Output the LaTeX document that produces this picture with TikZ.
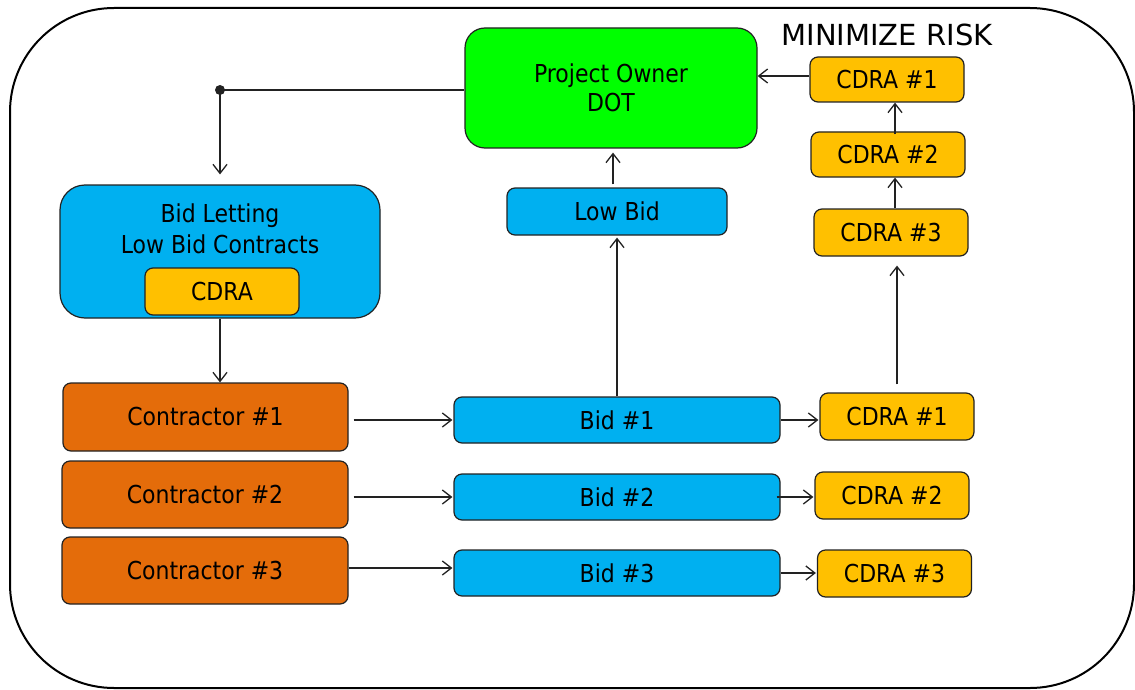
\documentclass[tikz,border=0pt]{standalone}
\usepackage{fontspec}
\setmainfont{DejaVu Sans}[FakeStretch=0.89]
\newfontfamily\titlefont{DejaVu Sans}
\usetikzlibrary{arrows.meta}
\definecolor{boxblue}{HTML}{00B0F0}
\definecolor{boxgold}{HTML}{FFC000}
\definecolor{boxorange}{HTML}{E46C0A}
\definecolor{boxgreen}{HTML}{00FF00}
\definecolor{edge}{HTML}{222222}

\begin{document}
\begin{tikzpicture}[x=1pt,y=-1pt,
  box/.style={draw=edge, line width=1.2pt, rounded corners=8pt, inner sep=0pt,
    font=\fontsize{24.7}{29}\selectfont, align=center},
  goldbox/.style={box, fill=boxgold, minimum width=154pt, minimum height=46pt},
  bidbox/.style={box, fill=boxblue, minimum width=326pt, minimum height=46pt},
  conbox/.style={box, fill=boxorange, minimum width=286pt, minimum height=67pt},
  conn/.style={draw=edge, line width=1.3pt, -{Straight Barb[length=9pt,width=14pt,line width=1.3pt]}},
  plain/.style={draw=edge, line width=1.3pt}
]
\useasboundingbox (0,0) rectangle (1135,690);

% outer frame
\draw[line width=2pt, rounded corners=104pt] (10,8) rectangle (1134,688);

% title
\node[font=\titlefont\fontsize{29}{34}\selectfont, inner sep=0pt] (risk) at (887,35) {MINIMIZE RISK};

% owner and low bid
\node[box, fill=boxgreen, rounded corners=20pt, minimum width=292pt, minimum height=120pt] (owner) at (611,88) {Project Owner\\DOT};
\node[box, fill=boxblue, minimum width=220pt, minimum height=47pt] (lowbid) at (617,211.5) {Low Bid};

% CDRA review chain
\node[goldbox, minimum height=45pt] (ca1) at (887,79.5) {CDRA \#1};
\node[goldbox, minimum height=45pt] (ca2) at (888,154.5) {CDRA \#2};
\node[goldbox, minimum height=47pt] (ca3) at (891,232.5) {CDRA \#3};

% bid letting
\node[box, fill=boxblue, rounded corners=25pt, minimum width=320pt, minimum height=133pt] (letting) at (220,251.5) {};
\node[font=\fontsize{24.7}{31}\selectfont, align=center, inner sep=0pt] (lettingtext) at (220,229) {Bid Letting\\Low Bid Contracts};
\node[goldbox, minimum height=47pt] (lcdra) at (222,291.5) {CDRA};

% contractors
\node[conbox, minimum width=285pt, minimum height=68pt] (con1) at (205.5,417) {Contractor \#1};
\node[conbox] (con2) at (205,494.5) {Contractor \#2};
\node[conbox] (con3) at (205,570.5) {Contractor \#3};

% bids
\node[bidbox] (bid1) at (617,420) {Bid \#1};
\node[bidbox] (bid2) at (617,497) {Bid \#2};
\node[bidbox] (bid3) at (617,573) {Bid \#3};

% CDRA per bid
\node[goldbox, minimum height=47pt] (cb1) at (897,416.5) {CDRA \#1};
\node[goldbox, minimum height=47pt] (cb2) at (892,495.5) {CDRA \#2};
\node[goldbox, minimum height=47pt] (cb3) at (894.5,573.5) {CDRA \#3};

% owner feeds the letting
\coordinate (split) at (220,90);
\fill[edge] (split) circle (5pt);
\draw[plain] (split) -- (split -| owner.west);
\draw[conn] (split) -- ([yshift=10pt]letting.north);
\draw[conn] (letting.south) -- (letting.south |- con1.north);

% contractors submit bids
\draw[conn] ([xshift=5pt]con1.east |- bid1.west) -- ([xshift=-1pt]bid1.west);
\draw[conn] ([xshift=5pt]con2.east |- bid2.west) -- ([xshift=-1pt]bid2.west);
\draw[conn] ([yshift=5pt]bid3.west -| con3.east) -- ([xshift=-1pt,yshift=5pt]bid3.west);

% bids to CDRA
\draw[conn] (bid1.east) -- ([xshift=-1pt]bid1.east -| cb1.west);
\draw[conn] ([xshift=-4pt]bid2.east) -- ([xshift=-1pt]bid2.east -| cb2.west);
\draw[conn] (bid3.east) -- ([xshift=-1pt]bid3.east -| cb3.west);

% low bid path
\draw[conn] (bid1.north) -- ([yshift=-2pt]lowbid.south);
\draw[conn] ([xshift=-4pt,yshift=3pt]lowbid.north) -- ([xshift=-4pt,yshift=-4pt]lowbid.north |- owner.south);

% CDRA escalation
\draw[conn] ([yshift=8pt]cb1.north) -- ([yshift=-9pt]cb1.north |- ca3.south);
\draw[conn] ([xshift=4pt]ca3.north) -- ([xshift=4pt]ca3.north |- ca2.south);
\draw[conn] ([xshift=7pt,yshift=-3pt]ca2.north) -- ([xshift=7pt]ca2.north |- ca1.south);
\draw[conn] ([yshift=3.5pt]ca1.west) -- ([yshift=3.5pt]ca1.west -| owner.east);
\end{tikzpicture}
\end{document}
